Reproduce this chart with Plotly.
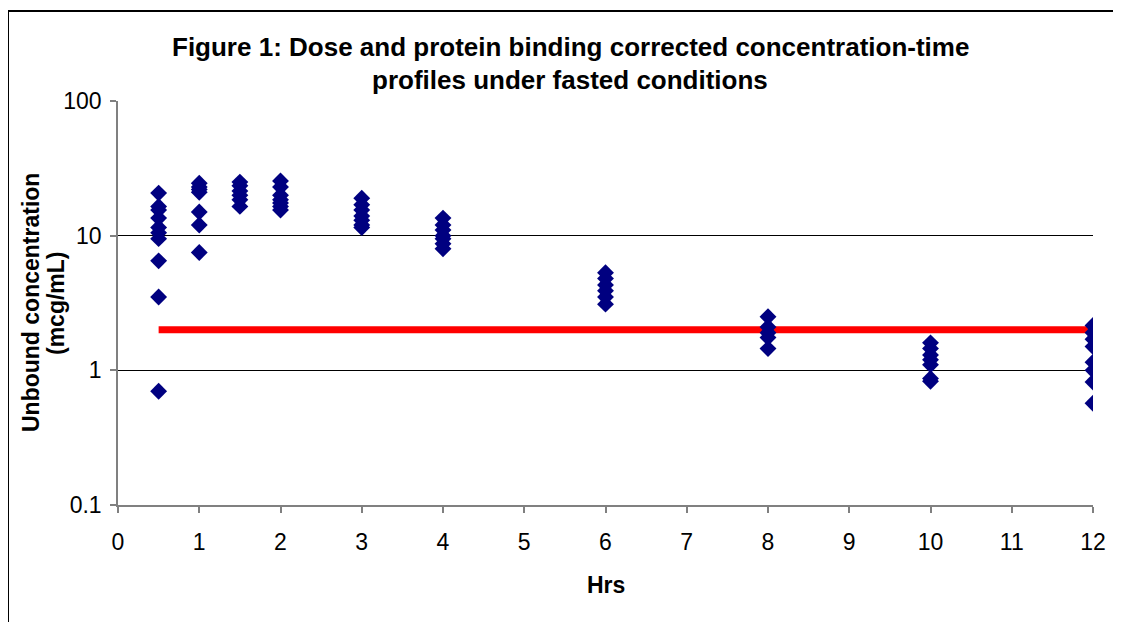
import plotly.graph_objects as go

# ---- data ----
hours = [0.5, 1, 1.5, 2, 3, 4, 6, 8, 10, 12]
conc_0_5 = [20.7, 16.5, 15.5, 13.5, 11.5, 10.5, 9.5, 6.5, 3.5, 0.7]
conc_1 = [24.5, 23, 22, 21, 15, 12, 7.5]
conc_1_5 = [25, 23.5, 21.5, 20, 18.5, 16.5]
conc_2 = [25.5, 23, 20, 18.5, 17.5, 16.5, 15.5]
conc_3 = [19, 17, 15.5, 14, 13, 12, 11.5]
conc_4 = [13.5, 12, 11, 10, 9.5, 8.7, 8]
conc_6 = [5.3, 4.8, 4.3, 3.9, 3.5, 3.1]
conc_8 = [2.5, 2.1, 1.9, 1.75, 1.45]
conc_10 = [1.6, 1.45, 1.3, 1.2, 1.1, 0.87, 0.83]
conc_12 = [2.15, 1.9, 1.7, 1.5, 1.15, 1.0, 0.82, 0.57]
conc_by_hour = [conc_0_5, conc_1, conc_1_5, conc_2, conc_3, conc_4,
                conc_6, conc_8, conc_10, conc_12]

threshold_x = [0.5, 12]
threshold_y = [2, 2]

x_ticks = list(range(0, 13))
y_tickvals = [0.1, 1, 10, 100]
y_ticktext = ["0.1", "1", "10", "100"]

title_line1 = "Figure 1: Dose and protein binding corrected concentration-time"
title_line2 = "profiles under fasted conditions"
x_title = "Hrs"
y_title_line1 = "Unbound concentration"
y_title_line2 = "(mcg/mL)"

# ---- build ----
xs, ys = [], []
for h, vals in zip(hours, conc_by_hour):
    for v in vals:
        xs.append(h)
        ys.append(v)

FONT = "Liberation Sans, Arial, sans-serif"

fig = go.Figure()
fig.add_trace(go.Scatter(x=threshold_x, y=threshold_y, mode="lines",
                         line=dict(color="#FF0000", width=7),
                         hoverinfo="skip", showlegend=False))
fig.add_trace(go.Scatter(x=xs, y=ys, mode="markers",
                         marker=dict(symbol="diamond", size=13, color="#000080",
                                     line=dict(width=0)),
                         showlegend=False))

OFF = 8  # page body margin
L, R, T, B = 118 - OFF, 1093 - OFF, 101 - OFF, 505 - OFF
W, H = 1121 - OFF, 622 - OFF
pw, ph = R - L, B - T

def px(x):
    return (x - OFF - L) / pw

def py(y):
    return (B - (y - OFF)) / ph

fig.update_layout(
    width=W, height=H,
    margin=dict(l=L, r=W - R, t=T, b=H - B),
    paper_bgcolor="white", plot_bgcolor="white",
    font=dict(family=FONT, color="black", size=23),
    showlegend=False,
    xaxis=dict(range=[0, 12], tickvals=x_ticks, ticktext=[str(t) for t in x_ticks],
               showgrid=False, zeroline=False, showline=True,
               linecolor="#808080", linewidth=1.5,
               ticks="outside", ticklen=6, tickcolor="#808080", tickwidth=1.5,
               tickfont=dict(size=23, family=FONT), ticklabelstandoff=10),
    yaxis=dict(type="log", range=[-1, 2], tickvals=y_tickvals, ticktext=y_ticktext,
               showgrid=True, gridcolor="black", gridwidth=1,
               zeroline=False, showline=True, linecolor="#808080", linewidth=1.5,
               ticks="outside", ticklen=6, tickcolor="#808080", tickwidth=1.5,
               tickfont=dict(size=23, family=FONT), ticklabelstandoff=4),
    shapes=[dict(type="rect", xref="paper", yref="paper",
                 x0=px(8), x1=px(1140), y0=py(650), y1=py(11),
                 line=dict(color="black", width=2), fillcolor="rgba(0,0,0,0)",
                 layer="above")],
    annotations=[
        dict(text="<b>" + title_line1 + "</b>", xref="paper", yref="paper",
             x=px(570), y=py(47), showarrow=False, xanchor="center", yanchor="middle",
             font=dict(size=26, family=FONT)),
        dict(text="<b>" + title_line2 + "</b>", xref="paper", yref="paper",
             x=px(570), y=py(80), showarrow=False, xanchor="center", yanchor="middle",
             font=dict(size=26, family=FONT)),
        dict(text="<b>" + x_title + "</b>", xref="paper", yref="paper",
             x=px(606), y=py(585), showarrow=False, xanchor="center", yanchor="middle",
             font=dict(size=23, family=FONT)),
        dict(text="<b>" + y_title_line1 + "</b>", xref="paper", yref="paper",
             x=px(31), y=py(303), showarrow=False, xanchor="center", yanchor="middle",
             textangle=-90, font=dict(size=23, family=FONT)),
        dict(text="<b>" + y_title_line2 + "</b>", xref="paper", yref="paper",
             x=px(56), y=py(303), showarrow=False, xanchor="center", yanchor="middle",
             textangle=-90, font=dict(size=23, family=FONT)),
    ],
)

fig.write_html("out.html")
